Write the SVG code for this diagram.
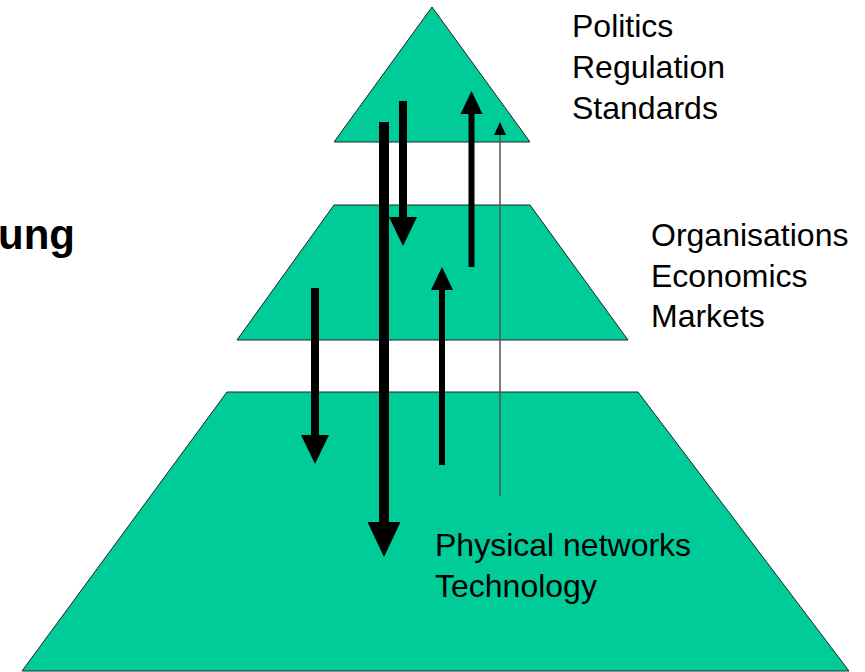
<svg xmlns="http://www.w3.org/2000/svg" width="865" height="672" viewBox="0 0 865 672">
  <style>
    .tier { fill: #00CC99; stroke: #222; stroke-width: 1; }
    .label { font-family: "Liberation Sans", Arial, sans-serif; font-size: 32px; fill: #000; }
    .title { font-family: "Liberation Sans", Arial, sans-serif; font-size: 42px; font-weight: bold; fill: #000; }
    .flow { stroke: #000; fill: none; stroke-linecap: butt; }
    .flow-thin { stroke: #555; stroke-width: 1.5; fill: none; }
  </style>
  <defs>
    <marker id="head-lg" markerUnits="userSpaceOnUse" markerWidth="35" markerHeight="33" refX="0" refY="16.5" orient="auto" overflow="visible">
      <path d="M0,0 L35,16.5 L0,33 Z" fill="#000"/>
    </marker>
    <marker id="head-md" markerUnits="userSpaceOnUse" markerWidth="29" markerHeight="28" refX="0" refY="14" orient="auto" overflow="visible">
      <path d="M0,0 L29,14 L0,28 Z" fill="#000"/>
    </marker>
    <marker id="head-sm" markerUnits="userSpaceOnUse" markerWidth="23" markerHeight="22" refX="0" refY="11" orient="auto" overflow="visible">
      <path d="M0,0 L23,11 L0,22 Z" fill="#000"/>
    </marker>
    <marker id="head-xs" markerUnits="userSpaceOnUse" markerWidth="13" markerHeight="12" refX="0" refY="6" orient="auto" overflow="visible">
      <path d="M0,0 L13,6 L0,12 Z" fill="#000"/>
    </marker>
  </defs>

  <!-- left-hand title, partly outside the frame -->
  <text class="title" x="75" y="249" text-anchor="end">ung</text>

  <!-- tier 1: politics / regulation / standards -->
  <g id="tier-top">
    <polygon class="tier" points="432,7 530,142 334,142"/>
    <text class="label" x="572" y="37">Politics</text>
    <text class="label" x="572" y="78">Regulation</text>
    <text class="label" x="572" y="119">Standards</text>
  </g>

  <!-- tier 2: organisations / economics / markets -->
  <g id="tier-middle">
    <polygon class="tier" points="334,205 530,205 628,340 237,340"/>
    <text class="label" x="651" y="246">Organisations</text>
    <text class="label" x="651" y="287">Economics</text>
    <text class="label" x="651" y="327">Markets</text>
  </g>

  <!-- tier 3: physical networks / technology -->
  <g id="tier-bottom">
    <polygon class="tier" points="227,392 638,392 849,671 22,671"/>
    <text class="label" x="435" y="556">Physical networks</text>
    <text class="label" x="435" y="597">Technology</text>
  </g>

  <!-- influence arrows between tiers -->
  <g id="connectors">
    <line class="flow" x1="384" y1="122" x2="384" y2="522" stroke-width="10" marker-end="url(#head-lg)"/>
    <line class="flow" x1="403" y1="101" x2="403" y2="217" stroke-width="8" marker-end="url(#head-md)"/>
    <line class="flow" x1="315" y1="288" x2="315" y2="435" stroke-width="8" marker-end="url(#head-md)"/>
    <line class="flow" x1="471.5" y1="267" x2="471.5" y2="114" stroke-width="6" marker-end="url(#head-sm)"/>
    <line class="flow" x1="442" y1="465" x2="442" y2="290" stroke-width="6" marker-end="url(#head-sm)"/>
    <line class="flow-thin" x1="500" y1="496" x2="500" y2="135" marker-end="url(#head-xs)"/>
  </g>
</svg>
